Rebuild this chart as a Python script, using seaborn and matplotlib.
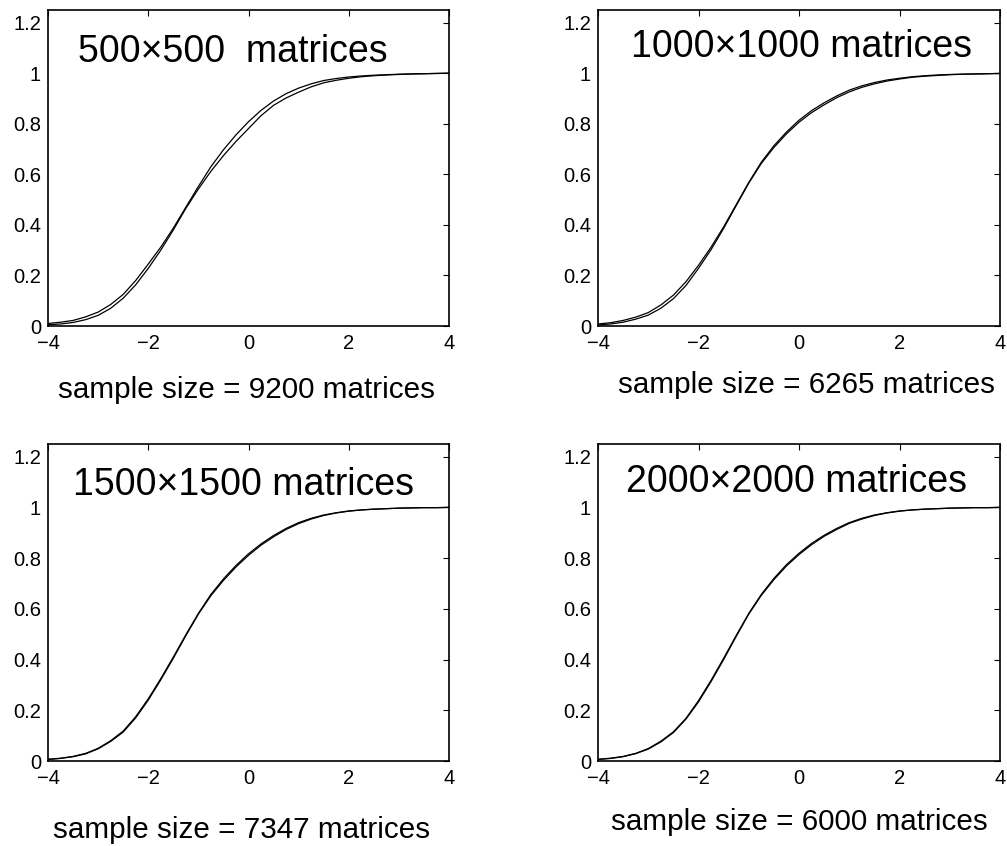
import numpy as np
import pandas as pd
import matplotlib
matplotlib.use("Agg")
import matplotlib.pyplot as plt
import seaborn as sns

# sample grid used when reading the curves off the figure
x_grid = np.arange(-4, 4.25, 0.25)

titles = ["500\u00d7500  matrices", "1000\u00d71000 matrices",
          "1500\u00d71500 matrices", "2000\u00d72000 matrices"]
samples = ["sample size = 9200 matrices", "sample size = 6265 matrices",
           "sample size = 7347 matrices", "sample size = 6000 matrices"]

p1_a = [.010, .015, .022, .036, .055, .085, .125, .180, .245, .312, .387, .470, .552,
        .630, .697, .756, .808, .853, .890, .919, .941, .958, .971, .979, .985, .989,
        .992, .994, .996, .997, .998, .999, 1.0]
p1_b = [.005, .008, .014, .025, .042, .070, .110, .163, .228, .300, .380, .465, .542,
        .612, .674, .730, .781, .832, .873, .902, .925, .946, .962, .972, .980, .986,
        .990, .993, .995, .997, .998, .999, 1.0]

p2_a = [.008, .013, .022, .035, .053, .083, .122, .175, .240, .312, .392, .480, .568,
        .648, .713, .767, .814, .852, .883, .910, .933, .950, .963, .973, .980, .986,
        .990, .993, .995, .996, .997, .998, .999]
p2_b = [.004, .008, .015, .027, .043, .070, .108, .160, .228, .302, .386, .476, .565,
        .643, .706, .760, .806, .844, .875, .903, .926, .944, .958, .969, .977, .984,
        .988, .991, .994, .996, .997, .998, .999]

p3_a = [.007, .011, .018, .030, .050, .080, .118, .175, .245, .325, .410, .498, .582,
        .657, .718, .771, .817, .856, .889, .917, .940, .957, .970, .979, .986, .990,
        .993, .995, .997, .998, .999, .999, 1.0]
p3_b = [.006, .010, .017, .028, .048, .077, .114, .170, .240, .320, .405, .494, .579,
        .652, .712, .765, .811, .851, .884, .913, .936, .954, .968, .978, .985, .990,
        .993, .995, .997, .998, .999, .999, 1.0]

p4_a = [.007, .011, .018, .030, .049, .078, .115, .168, .238, .318, .405, .495, .582,
        .657, .720, .774, .819, .858, .890, .917, .940, .957, .970, .979, .986, .990,
        .993, .995, .997, .998, .999, .999, 1.0]
p4_b = [.006, .010, .017, .029, .047, .075, .112, .165, .233, .313, .400, .491, .579,
        .653, .715, .769, .814, .853, .886, .913, .937, .954, .968, .978, .985, .990,
        .993, .995, .997, .998, .999, .999, 1.0]

curves = [(p1_a, p1_b), (p2_a, p2_b), (p3_a, p3_b), (p4_a, p4_b)]

sns.set_style("white")
plt.rcParams["font.family"] = ["Liberation Sans", "DejaVu Sans"]
plt.rcParams["text.color"] = "black"
plt.rcParams["xtick.color"] = "black"
plt.rcParams["ytick.color"] = "black"
plt.rcParams["axes.labelcolor"] = "black"

W, H = 1007, 846
fig = plt.figure(figsize=(W / 100, H / 100), dpi=100)

# axes boxes in pixels: left, right, top, bottom
boxes = [(48, 449, 10, 326), (598, 1000, 10, 326),
         (48, 449, 444, 761), (598, 1000, 444, 761)]
title_pos = [(-0.32, 1.045), (0.04, 1.065), (-0.09, 1.05), (-0.04, 1.062)]
sample_pos = [(247, 398), (807, 393), (242, 838), (799, 830)]

for i, (l, r, t, b) in enumerate(boxes):
    ax = fig.add_axes([l / W, 1 - b / H, (r - l) / W, (b - t) / H])
    a, bb = curves[i]
    sns.lineplot(x=x_grid, y=a, ax=ax, color="black", linewidth=0.9)
    sns.lineplot(x=x_grid, y=bb, ax=ax, color="black", linewidth=0.9)
    ax.set_xlim(-4, 4)
    ax.set_ylim(0, 1.25)
    ax.set_xticks([-4, -2, 0, 2, 4])
    ax.set_yticks([0, 0.2, 0.4, 0.6, 0.8, 1.0, 1.2])
    ax.set_yticklabels(["0", "0.2", "0.4", "0.6", "0.8", "1", "1.2"])
    ax.tick_params(direction="in", length=4, width=0.8, top=True, right=True,
                   labelsize=14.5)
    ax.tick_params(axis="x", pad=6)
    ax.tick_params(axis="y", pad=5)
    for sp in ax.spines.values():
        sp.set_linewidth(1.2)
        sp.set_color("black")
    ax.set_xlabel("")
    ax.set_ylabel("")
    tx, ty = title_pos[i]
    ax.text(tx, ty, titles[i], ha="center", va="baseline", fontsize=27)
    sx, sy = sample_pos[i]
    fig.text(sx / W, 1 - sy / H, samples[i], ha="center", va="baseline", fontsize=21.3)

plt.savefig("out.png", dpi=100)
plt.close()
